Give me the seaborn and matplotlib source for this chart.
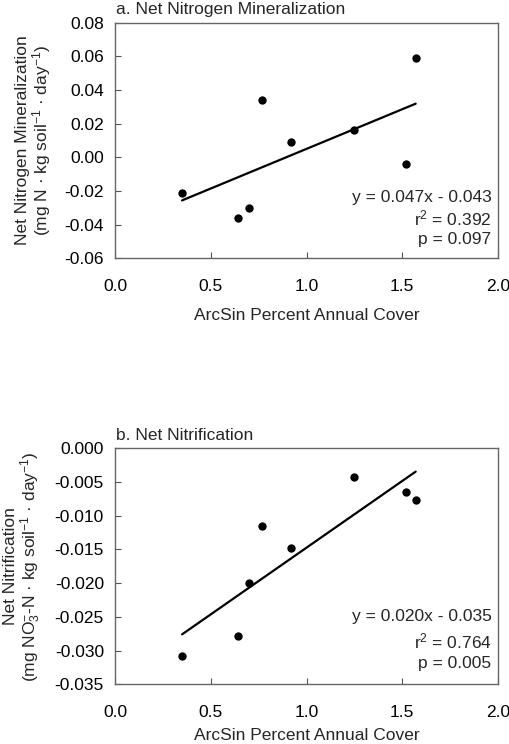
import matplotlib
matplotlib.use("Agg")
import matplotlib.pyplot as plt
import seaborn as sns
import pandas as pd

sns.set_style("ticks")
plt.rcParams['font.family'] = ['Liberation Sans', 'DejaVu Sans']
plt.rcParams['mathtext.fontset'] = 'custom'
plt.rcParams['mathtext.rm'] = 'Liberation Sans'
plt.rcParams['mathtext.it'] = 'Liberation Sans'

cover = [0.35, 0.64, 0.70, 0.77, 0.92, 1.25, 1.52, 1.57]
mineralization = [-0.021, -0.036, -0.030, 0.034, 0.009, 0.016, -0.004, 0.059]
nitrification = [-0.0308, -0.0279, -0.0199, -0.0115, -0.0148, -0.0043, -0.0065, -0.0077]

x_ticks = [0.0, 0.5, 1.0, 1.5, 2.0]
y_ticks_a = [-0.06, -0.04, -0.02, 0.00, 0.02, 0.04, 0.06, 0.08]
y_ticks_b = [-0.035, -0.030, -0.025, -0.020, -0.015, -0.010, -0.005, 0.000]

stats_a = ["y = 0.047x - 0.043", "r$^2$ = 0.392", "p = 0.097"]
stats_b = ["y = 0.020x - 0.035", "r$^2$ = 0.764", "p = 0.005"]

df = pd.DataFrame({"cover": cover, "min": mineralization, "nit": nitrification})

FS = 12.5

fig = plt.figure(figsize=(5.1, 7.44), dpi=100)
ax1 = fig.add_axes([0.2255, 0.6528, 0.751, 0.3167])
ax2 = fig.add_axes([0.2255, 0.0802, 0.751, 0.3172])

def style(ax, col, yticks, fmt, title, ylab, stats, stat_y, xlabpad):
    sns.regplot(data=df, x="cover", y=col, ax=ax, ci=None, truncate=True,
                scatter_kws=dict(s=36, color="black", edgecolor="black", linewidths=0, alpha=1),
                line_kws=dict(color="black", lw=1.6))
    ax.set_xlim(0, 2.0)
    ax.set_ylim(yticks[0], yticks[-1])
    ax.set_xticks(x_ticks)
    ax.set_xticklabels([f"{t:.1f}" for t in x_ticks])
    ax.set_yticks(yticks)
    ax.set_yticklabels([fmt.format(t) if abs(t) > 1e-12 else fmt.format(0.0) for t in yticks])
    ax.tick_params(direction="in", length=4, width=0.8, colors="#555555", labelcolor="black",
                   labelsize=FS)
    ax.tick_params(axis="x", pad=15)
    ax.tick_params(axis="y", pad=8)
    for s in ax.spines.values():
        s.set_visible(True)
        s.set_color("#666666")
        s.set_linewidth(1.0)
    ax.set_xlabel("ArcSin Percent Annual Cover", fontsize=FS, labelpad=xlabpad)
    ax.set_ylabel(ylab, fontsize=FS, labelpad=8, linespacing=1.05)
    ax.text(0.003, 1.024, title, transform=ax.transAxes, fontsize=FS, ha="left", va="bottom")
    for i, s in enumerate(stats):
        ax.text(0.983, stat_y[i], s, transform=ax.transAxes, fontsize=FS,
                ha="right", va="center")

style(ax1, "min", y_ticks_a, "{:.2f}", "a. Net Nitrogen Mineralization",
      "Net Nitrogen Mineralization\n(mg N · kg soil$^{-1}$ · day$^{-1}$)", stats_a,
      [0.259, 0.170, 0.081], 10)
style(ax2, "nit", y_ticks_b, "{:.3f}", "b. Net Nitrification",
      "Net Nitrification\n(mg NO$_3^{-}$-N · kg soil$^{-1}$ · day$^{-1}$)", stats_b,
      [0.289, 0.183, 0.090], 6)

fig.savefig("out.png", dpi=100)
